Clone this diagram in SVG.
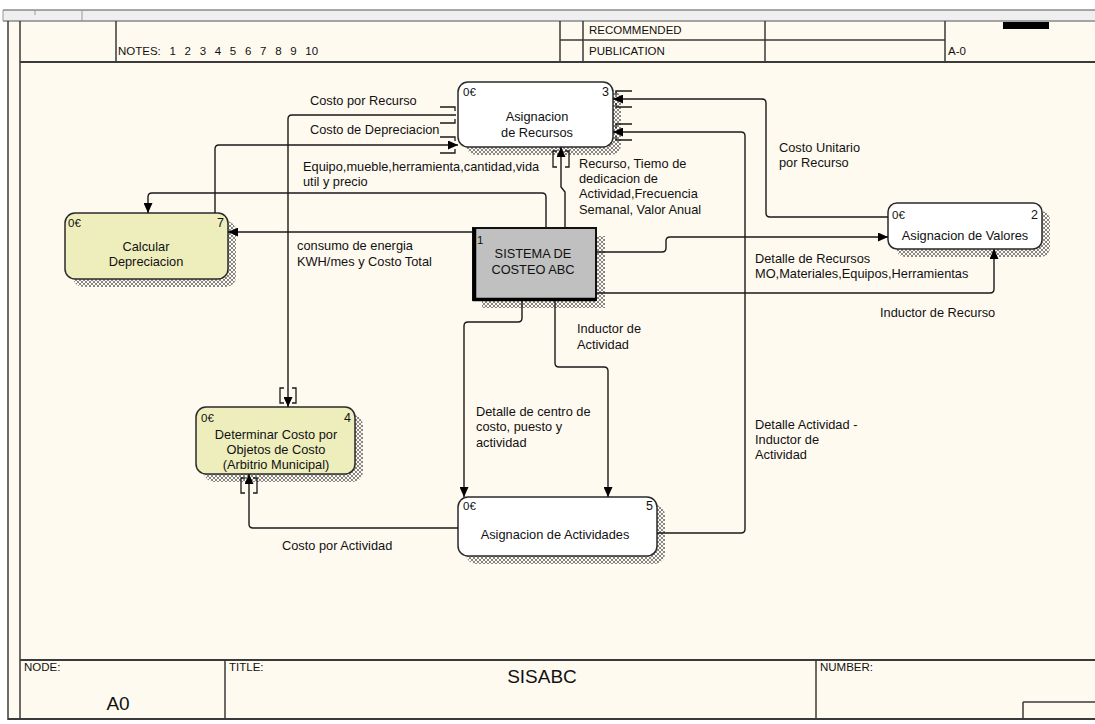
<svg xmlns="http://www.w3.org/2000/svg" width="1095" height="724" viewBox="0 0 1095 724">
  <style>
    .frame { fill: none; stroke: #3a3a3a; stroke-width: 1.5; }
    .hdr { font-family: "Liberation Sans", Arial, sans-serif; font-size: 11.5px; fill: #111; }
    .lbl { font-family: "Liberation Sans", Arial, sans-serif; font-size: 12.8px; fill: #111; }
    .ttl { font-family: "Liberation Sans", Arial, sans-serif; font-size: 12.8px; fill: #111; text-anchor: middle; }
    .tag { font-family: "Liberation Sans", Arial, sans-serif; font-size: 11.5px; fill: #111; }
    .num { font-family: "Liberation Sans", Arial, sans-serif; font-size: 12.5px; fill: #111; text-anchor: end; }
    .box { stroke: #2a2a2a; stroke-width: 1.5; }
    .shadow { fill: url(#hatch); stroke: none; }
    .conn { fill: none; stroke: #1a1a1a; stroke-width: 1.4; }
    .brk { fill: none; stroke: #1a1a1a; stroke-width: 1.3; }
  </style>
  <defs>
    <pattern id="hatch" width="4" height="4" patternUnits="userSpaceOnUse">
      <path d="M0,0 L4,4 M4,0 L0,4" stroke="#6a6a6a" stroke-width="0.8"/>
    </pattern>
    <marker id="arr" markerWidth="10" markerHeight="9" refX="10" refY="4.5" orient="auto" markerUnits="userSpaceOnUse">
      <path d="M0,0 L10,4.5 L0,9 z" fill="#000"/>
    </marker>
  </defs>

  <!-- page -->
  <rect x="0" y="0" width="1095" height="724" fill="#ffffff"/>
  <rect x="8" y="21" width="1087" height="698" fill="#fffaf0"/>
  <rect x="3" y="10" width="1092" height="11" fill="#efefef"/>
  <line x1="3" y1="10" x2="1095" y2="10" stroke="#555" stroke-width="1"/>
  <line x1="3" y1="10" x2="3" y2="21" stroke="#999" stroke-width="1"/>
  <line x1="35" y1="10" x2="35" y2="15" stroke="#999" stroke-width="1"/>
  <line x1="82" y1="10" x2="82" y2="21" stroke="#999" stroke-width="1"/>
  <line x1="3" y1="21" x2="1095" y2="21" stroke="#888" stroke-width="1.5"/>

  <!-- frame lines -->
  <g class="frame">
    <line x1="8" y1="21" x2="8" y2="720"/>
    <line x1="20" y1="21" x2="20" y2="719"/>
    <line x1="20" y1="62" x2="1095" y2="62" stroke-width="2"/>
    <line x1="116" y1="21" x2="116" y2="62"/>
    <line x1="560" y1="21" x2="560" y2="62"/>
    <line x1="583" y1="21" x2="583" y2="62"/>
    <line x1="765" y1="21" x2="765" y2="62"/>
    <line x1="945" y1="21" x2="945" y2="62"/>
    <line x1="560" y1="40" x2="945" y2="40"/>
    <line x1="20" y1="660" x2="1095" y2="660" stroke-width="2"/>
    <line x1="225" y1="660" x2="225" y2="719"/>
    <line x1="816" y1="660" x2="816" y2="719"/>
    <line x1="1023" y1="702" x2="1095" y2="702"/>
    <line x1="1023" y1="702" x2="1023" y2="719"/>
    <line x1="8" y1="719" x2="1095" y2="719" stroke-width="2"/>
  </g>
  <rect x="1003" y="22" width="46" height="7" fill="#000"/>

  <!-- header / footer texts -->
  <text class="hdr" x="118" y="55" word-spacing="5.5">NOTES:  1 2 3 4 5 6 7 8 9 10</text>
  <text class="hdr" x="589" y="34">RECOMMENDED</text>
  <text class="hdr" x="589" y="55">PUBLICATION</text>
  <text class="hdr" x="948" y="55">A-0</text>
  <text class="hdr" x="24" y="671" font-size="11">NODE:</text>
  <text class="hdr" x="229" y="671" font-size="11">TITLE:</text>
  <text class="hdr" x="820" y="671" font-size="11">NUMBER:</text>
  <text x="118" y="710" font-family="Liberation Sans, Arial, sans-serif" font-size="19" text-anchor="middle" fill="#111">A0</text>
  <text x="542" y="683" font-family="Liberation Sans, Arial, sans-serif" font-size="19" text-anchor="middle" fill="#111">SISABC</text>

  <!-- node 1 -->
  <g id="node1">
    <rect class="shadow" x="482" y="236" width="123" height="72"/>
    <rect x="473" y="228" width="123" height="72" fill="#c0c0c0" stroke="#111" stroke-width="2"/>
    <path d="M474.5,228 V299.5 H596" fill="none" stroke="#000" stroke-width="3.5"/>
    <text class="tag" x="477" y="244">1</text>
    <text class="ttl" x="533" y="258">SISTEMA DE</text>
    <text class="ttl" x="533" y="274">COSTEO ABC</text>
  </g>

  <!-- node 2 -->
  <g id="node2">
    <rect class="shadow" x="896" y="211" width="154" height="46" rx="9"/>
    <rect class="box" x="888" y="203" width="154" height="46" rx="9" fill="#ffffff"/>
    <text class="tag" x="892" y="219">0€</text>
    <text class="num" x="1038" y="219">2</text>
    <text class="ttl" x="965" y="240">Asignacion de Valores</text>
  </g>

  <!-- node 3 -->
  <g id="node3">
    <rect class="shadow" x="466" y="90" width="155" height="65" rx="10"/>
    <rect class="box" x="458" y="82" width="155" height="65" rx="10" fill="#ffffff"/>
    <text class="tag" x="463" y="96">0€</text>
    <text class="num" x="609" y="96">3</text>
    <text class="ttl" x="537" y="121">Asignacion</text>
    <text class="ttl" x="537" y="137">de Recursos</text>
  </g>

  <!-- node 4 -->
  <g id="node4">
    <rect class="shadow" x="204" y="415" width="159" height="67" rx="10"/>
    <rect class="box" x="196" y="407" width="159" height="67" rx="10" fill="#eeeebd"/>
    <text class="tag" x="201" y="422">0€</text>
    <text class="num" x="351" y="422">4</text>
    <text class="ttl" x="276" y="439">Determinar Costo por</text>
    <text class="ttl" x="276" y="454">Objetos de Costo</text>
    <text class="ttl" x="276" y="469">(Arbitrio Municipal)</text>
  </g>

  <!-- node 5 -->
  <g id="node5">
    <rect class="shadow" x="466" y="505" width="199" height="59" rx="10"/>
    <rect class="box" x="458" y="497" width="199" height="59" rx="10" fill="#ffffff"/>
    <text class="tag" x="463" y="510">0€</text>
    <text class="num" x="653" y="510">5</text>
    <text class="ttl" x="555" y="539">Asignacion de Actividades</text>
  </g>

  <!-- node 7 -->
  <g id="node7">
    <rect class="shadow" x="73" y="221" width="163" height="66" rx="10"/>
    <rect class="box" x="65" y="213" width="163" height="66" rx="10" fill="#eeeebd"/>
    <text class="tag" x="68" y="227">0€</text>
    <text class="num" x="224" y="227">7</text>
    <text class="ttl" x="146" y="251">Calcular</text>
    <text class="ttl" x="146" y="266">Depreciacion</text>
  </g>

  <!-- connectors, drawn above the node shadows -->
  <g id="connectors">
    <!-- Costo por Recurso -->
    <path class="conn" d="M456,115 H292 Q288,115 288,119 V407" marker-end="url(#arr)"/>
    <!-- Costo de Depreciacion -->
    <path class="conn" d="M215,213 V149 Q215,145 219,145 H458" marker-end="url(#arr)"/>
    <!-- Equipo, mueble ... -->
    <path class="conn" d="M546,228 V197 Q546,193 542,193 H152 Q148,193 148,197 V213" marker-end="url(#arr)"/>
    <!-- Recurso, Tiempo de dedicacion ... -->
    <path class="conn" d="M565,227 V192 L561,187 V147" marker-end="url(#arr)"/>
    <!-- consumo de energia -->
    <path class="conn" d="M472,232 H228" marker-end="url(#arr)"/>
    <!-- Detalle de Recursos -->
    <path class="conn" d="M597,252 H662 Q666,252 666,248 V241 Q666,237 670,237 H888" marker-end="url(#arr)"/>
    <!-- Inductor de Recurso -->
    <path class="conn" d="M597,293 H990 Q994,293 994,289 V249" marker-end="url(#arr)"/>
    <!-- Costo Unitario por Recurso -->
    <path class="conn" d="M888,217 H770 Q766,217 766,213 V103 Q766,99 762,99 H613" marker-end="url(#arr)"/>
    <!-- Detalle Actividad - Inductor de Actividad -->
    <path class="conn" d="M657,533 H741 Q745,533 745,529 V136 Q745,132 741,132 H613" marker-end="url(#arr)"/>
    <!-- Detalle de centro de costo -->
    <path class="conn" d="M522,301 V318 Q522,322 518,322 H468 Q464,322 464,326 V497" marker-end="url(#arr)"/>
    <!-- Inductor de Actividad -->
    <path class="conn" d="M555,301 V363 Q555,367 559,367 H604 Q608,367 608,371 V497" marker-end="url(#arr)"/>
    <!-- Costo por Actividad -->
    <path class="conn" d="M458,528 H253 Q249,528 249,524 V474" marker-end="url(#arr)"/>

    <!-- tunnel brackets -->
    <path class="brk" d="M440,107 H455 V111 M455,119 V123 H440"/>
    <path class="brk" d="M440,137 H455 V141 M455,149 V153 H440"/>
    <path class="brk" d="M632,91 H616 V95 M616,103 V107 H632"/>
    <path class="brk" d="M632,124 H616 V128 M616,136 V140 H632"/>
    <path class="brk" d="M557,151 H553 V167 H557 M565,151 H569 V167 H565"/>
    <path class="brk" d="M284,388 H280 V403 H284 M292,388 H296 V403 H292"/>
    <path class="brk" d="M245,478 H241 V493 H245 M253,478 H257 V493 H253"/>

    <!-- connector labels -->
    <text class="lbl" x="310" y="105">Costo por Recurso</text>
    <text class="lbl" x="310" y="134">Costo de Depreciacion</text>
    <text class="lbl" x="303" y="171">Equipo,mueble,herramienta,cantidad,vida</text>
    <text class="lbl" x="303" y="186">util y precio</text>
    <text class="lbl" x="579" y="168">Recurso, Tiemo de</text>
    <text class="lbl" x="579" y="183">dedicacion de</text>
    <text class="lbl" x="579" y="198">Actividad,Frecuencia</text>
    <text class="lbl" x="579" y="214">Semanal, Valor Anual</text>
    <text class="lbl" x="779" y="152">Costo Unitario</text>
    <text class="lbl" x="779" y="167">por Recurso</text>
    <text class="lbl" x="297" y="250">consumo de energia</text>
    <text class="lbl" x="297" y="266">KWH/mes y Costo Total</text>
    <text class="lbl" x="755" y="263">Detalle de Recursos</text>
    <text class="lbl" x="755" y="278">MO,Materiales,Equipos,Herramientas</text>
    <text class="lbl" x="880" y="317">Inductor de Recurso</text>
    <text class="lbl" x="577" y="333">Inductor de</text>
    <text class="lbl" x="577" y="349">Actividad</text>
    <text class="lbl" x="476" y="416">Detalle de centro de</text>
    <text class="lbl" x="476" y="431">costo, puesto y</text>
    <text class="lbl" x="476" y="447">actividad</text>
    <text class="lbl" x="755" y="429">Detalle Actividad -</text>
    <text class="lbl" x="755" y="444">Inductor de</text>
    <text class="lbl" x="755" y="459">Actividad</text>
    <text class="lbl" x="282" y="550">Costo por Actividad</text>
  </g>
</svg>
